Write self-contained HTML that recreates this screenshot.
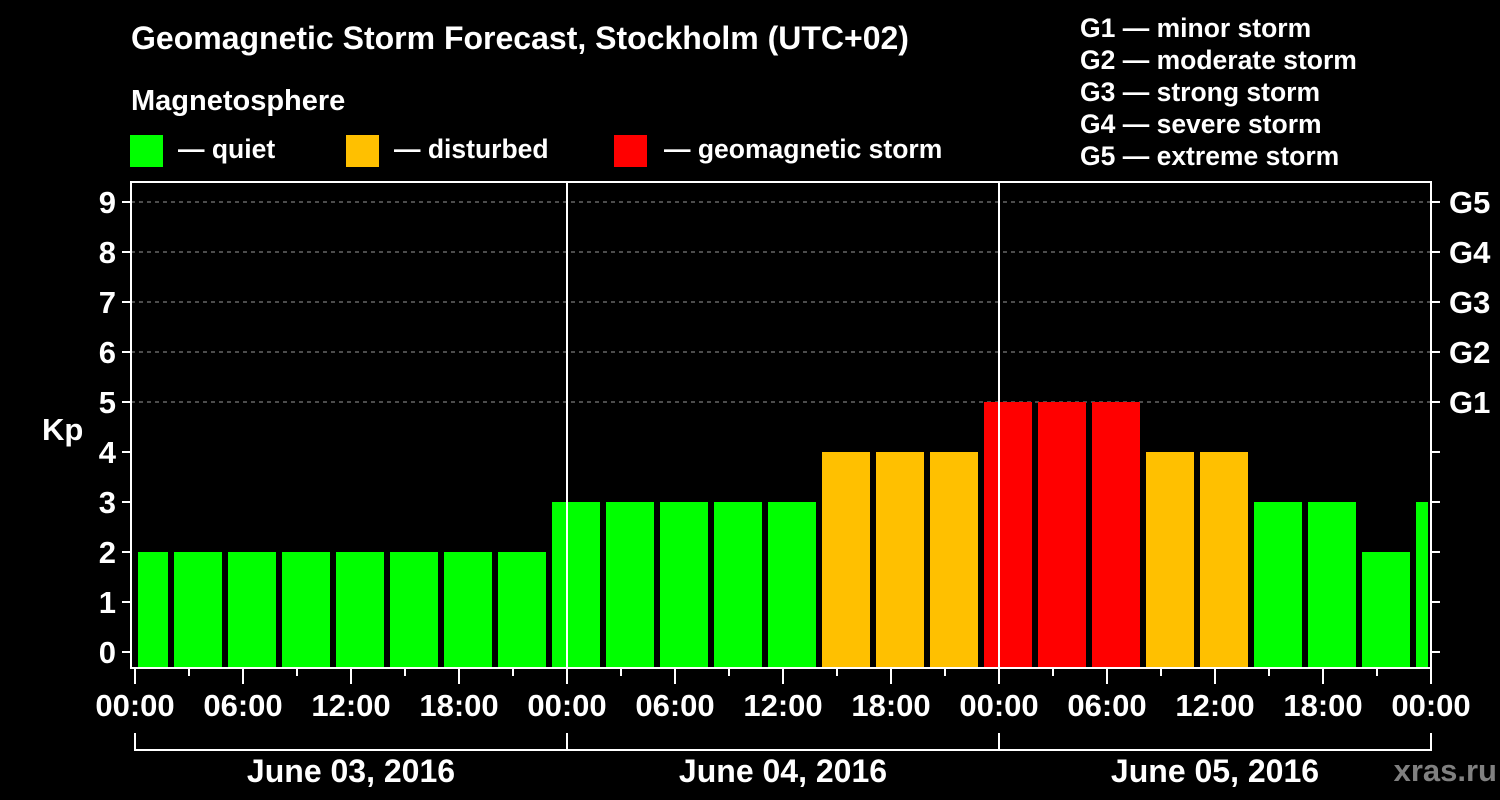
<!DOCTYPE html>
<html><head><meta charset="utf-8"><style>
html,body{margin:0;padding:0;background:#000;}
svg{display:block;font-family:"Liberation Sans",Arial,sans-serif;font-weight:bold;}
</style></head><body>
<svg id="chart" width="1500" height="800" viewBox="0 0 1500 800">
<rect width="1500" height="800" fill="#000"/>
<text x="131" y="49" fill="#fff" font-size="32">Geomagnetic Storm Forecast, Stockholm (UTC+02)</text>
<text x="131" y="110" fill="#fff" font-size="29">Magnetosphere</text>
<g><rect x="130" y="135" width="33" height="32" fill="#00ff00"/><text x="178" y="158" fill="#fff" font-size="26.5">— quiet</text></g>
<g><rect x="346" y="135" width="33" height="32" fill="#ffc000"/><text x="394" y="158" fill="#fff" font-size="26.5">— disturbed</text></g>
<g><rect x="614" y="135" width="33" height="32" fill="#ff0000"/><text x="664" y="158" fill="#fff" font-size="26.5">— geomagnetic storm</text></g>
<g fill="#fff" font-size="26.5">
<text x="1080" y="37">G1 — minor storm</text>
<text x="1080" y="69">G2 — moderate storm</text>
<text x="1080" y="101">G3 — strong storm</text>
<text x="1080" y="133">G4 — severe storm</text>
<text x="1080" y="165">G5 — extreme storm</text>
</g>
<text x="42" y="440" fill="#fff" font-size="31">Kp</text>
<g id="grid"></g><g id="bars"></g><g id="axes"></g>
<text x="1497" y="781" fill="#808080" font-size="31" text-anchor="end">xras.ru</text>
</svg>
<script>
const values=[2,2,2,2,2,2,2,2,3,3,3,3,3,4,4,4,5,5,5,4,4,3,3,2,3];
const colors={2:"#00ff00",3:"#00ff00",4:"#ffc000",5:"#ff0000"};
const yTicks=[0,1,2,3,4,5,6,7,8,9];
const gLabels=["G1","G2","G3","G4","G5"];
const timeLabels=["00:00","06:00","12:00","18:00","00:00","06:00","12:00","18:00","00:00","06:00","12:00","18:00","00:00"];
const dateLabels=["June 03, 2016","June 04, 2016","June 05, 2016"];
const NS="http://www.w3.org/2000/svg";
const X0=135,X1=1431,T0=0,T1=72,L=131,TOP=182,BOT=668;
const x=h=>X0+(h-T0)/(T1-T0)*(X1-X0);
const y=v=>652-v*50;
function mk(p,tag,a){const e=document.createElementNS(NS,tag);for(const k in a)e.setAttribute(k,a[k]);p.appendChild(e);return e;}
const grid=document.getElementById('grid'),bars=document.getElementById('bars'),axes=document.getElementById('axes');
for(let v=5;v<=9;v++){const l=mk(grid,'line',{x1:L,x2:X1,y1:y(v),y2:y(v),stroke:'#999','stroke-dasharray':'4,4','stroke-width':1});

}
values.forEach((v,i)=>{
 let s=i==0?0:-1+3*i, e=Math.min(s+3,72); if(i==0)e=2;
 const xs=x(s)+3, xe=x(e)-3;
 const r=mk(bars,'rect',{x:xs,y:y(v),width:Math.max(xe-xs,1),height:BOT-y(v),fill:colors[v]});
 
 
});
const W={stroke:'#fff','stroke-width':2};
mk(axes,'path',Object.assign({d:`M${L},${TOP}H${X1}V${BOT}H${L}Z`,fill:'none'},W));
[24,48].forEach(h=>mk(axes,'line',Object.assign({x1:x(h),x2:x(h),y1:TOP,y2:BOT},W)));
yTicks.forEach(v=>{
 mk(axes,'line',Object.assign({x1:L-9,x2:L,y1:y(v),y2:y(v)},W));
 mk(axes,'line',Object.assign({x1:X1,x2:X1+9,y1:y(v),y2:y(v)},W));
 const t=mk(axes,'text',{x:116,y:y(v)+11,fill:'#fff','font-size':31,'text-anchor':'end'});t.textContent=v;
 
 
});
gLabels.forEach((g,i)=>{const t=mk(axes,'text',{x:1449,y:y(5+i)+11,fill:'#fff','font-size':31});t.textContent=g;
 
 });
for(let h=0;h<=72;h+=3){const maj=h%6==0;mk(axes,'line',Object.assign({x1:x(h),x2:x(h),y1:BOT,y2:BOT+(maj?16:8)},W));}
timeLabels.forEach((s,i)=>{const t=mk(axes,'text',{x:x(i*6),y:716,fill:'#fff','font-size':31,'text-anchor':'middle'});t.textContent=s;
 
 });
mk(axes,'path',Object.assign({d:`M${x(0)},733V750H${x(72)}V733M${x(24)},733V750M${x(48)},733V750`,fill:'none'},W));
dateLabels.forEach((s,i)=>{const t=mk(axes,'text',{x:x(i*24+12),y:782,fill:'#fff','font-size':32,'text-anchor':'middle'});t.textContent=s;
 
 });
</script>
</body></html>
